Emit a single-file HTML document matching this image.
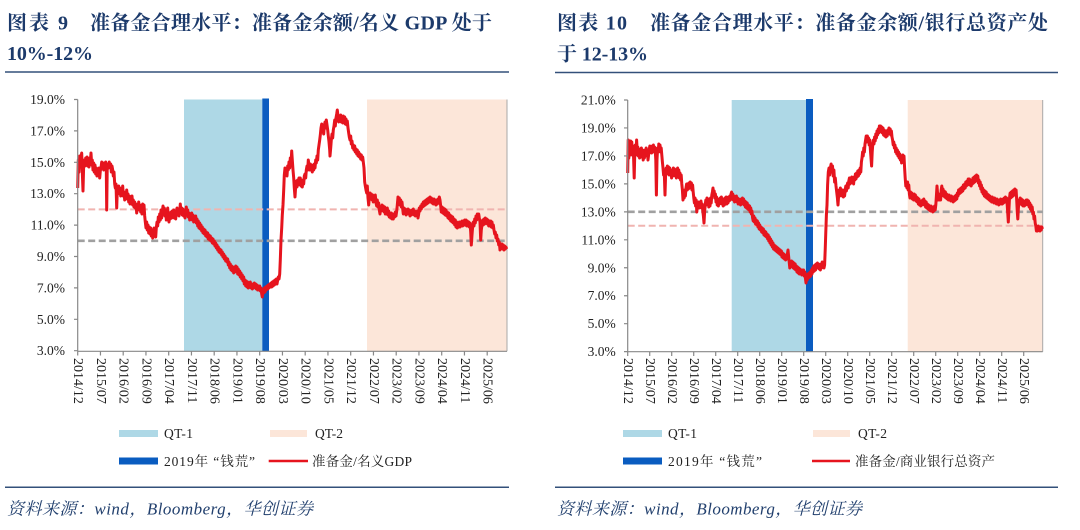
<!DOCTYPE html>
<html><head><meta charset="utf-8"><style>
html,body{margin:0;padding:0;background:#fff;}
svg{display:block;}
.t{font-family:"Liberation Serif","Noto Serif CJK SC",serif;font-weight:700;font-size:20px;fill:#1c3a6b;}
.ax{font-family:"Liberation Serif","Noto Serif CJK SC",serif;font-size:13.5px;fill:#222;}
.axx{font-family:"Liberation Serif","Noto Serif CJK SC",serif;font-size:14px;fill:#222;}
.lg{font-family:"Liberation Serif","Noto Serif CJK SC",serif;font-size:13.5px;fill:#222;}
.ft{font-family:"Liberation Serif","Noto Serif CJK SC",serif;font-style:italic;font-size:17px;fill:#22406e;}
</style></head><body>
<svg width="1080" height="530" viewBox="0 0 1080 530" xmlns="http://www.w3.org/2000/svg">
<!-- Titles -->
<text class="t" x="7" y="29.5" textLength="61">图表 9</text>
<text class="t" x="90" y="29.5" textLength="402">准备金合理水平：准备金余额/名义 GDP 处于</text>
<text class="t" x="7" y="60" textLength="86">10%-12%</text>
<text class="t" x="557" y="29.5" textLength="70">图表 10</text>
<text class="t" x="650" y="29.5" textLength="398">准备金合理水平：准备金余额/银行总资产处</text>
<text class="t" x="557" y="60.5" textLength="91">于 12-13%</text>
<line x1="5" y1="72" x2="509" y2="72" stroke="#33507a" stroke-width="1.5"/>
<line x1="555" y1="72.5" x2="1058" y2="72.5" stroke="#33507a" stroke-width="1.5"/>

<!-- LEFT CHART -->
<rect x="184" y="99.5" width="78.3" height="251.8" fill="#aed8e6"/>
<rect x="262.3" y="98.5" width="6.7" height="252.8" fill="#0a5cc0"/>
<rect x="367" y="99.5" width="140" height="251.8" fill="#fce6d9"/>
<line x1="507" y1="99.5" x2="507" y2="351.3" stroke="#a8a8a8" stroke-width="1"/>
<line x1="77.7" y1="209.4" x2="507" y2="209.4" stroke="#f0b4b0" stroke-width="2" stroke-dasharray="7,3.5"/>
<line x1="77.7" y1="240.8" x2="507" y2="240.8" stroke="#a0a0a0" stroke-width="2.6" stroke-dasharray="7,3.5"/>
<polyline fill="none" stroke="#e6141e" stroke-width="3" stroke-linejoin="round" points="77.7,188 78.3,160 79,172 79.7,156 80.3,165 81,158 81.7,153 82.3,172 83,191 83.6,168 84.3,160 85,166 85.7,158 86.3,163 87,157 87.7,166 88.3,160 89,167 89.7,158 90.3,162 91,153 91.7,165 92.3,160 93,170 93.7,163 94.3,172 95,165 95.7,174 96.3,168 97,176 97.7,170 98.3,174 99,168 99.7,178 100.3,171 101,168 101.7,162 102.3,168 103,163 103.7,170 104.3,163 105,167 105.7,162 106.3,170 106.7,210 107.2,170 107.8,164 108.5,168 109.2,162 110,167 110.7,164 111.3,172 112,166 112.7,170 113.3,176 114,172 114.7,184 115.3,188 116,184 116.7,208 117.3,190 118,194 118.7,186 119.3,193 120,188 120.7,196 121.3,189 122,194 122.7,186 123.3,196 124,192 124.7,200 125.3,194 126,199 126.7,190 127.3,198 128,194 128.7,202 129.3,196 130,204 130.7,198 131.3,203 132,196 132.7,205 133.3,200 134,207 134.7,202 135.3,208 136,204 136.7,213 137.3,205 138,209 138.7,202 139.3,210 140,205 140.7,212 141.3,206 142,214 142.7,204 143.3,209 144,205 144.7,216 145.3,222 146,228 146.7,222 147.3,230 148,225 148.7,233 149.3,227 150,234 150.7,228 151.3,236 152,230 152.7,238 153.3,232 154,228 154.7,235 155.3,230 155.7,237 156.3,228 157,222 157.7,226 158.3,217 159,222 159.7,214 160.3,220 161,210 161.7,218 162.3,212 163,206 163.7,214 164.3,208 165,216 165.7,210 166.3,220 167,214 167.7,208 168.3,218 169,222 169.7,214 170.3,219 171,212 171.7,218 172.3,211 173,216 173.7,210 174.3,218 175,213 175.7,219 176.3,212 177,208 177.7,215 178.3,210 179,216 179.7,211 180.3,204 181,212 181.7,208 182.3,215 183,209 183.7,216 184.3,212 185,218 185.7,213 186.3,207 187,214 187.7,210 188.3,217 189,213 189.7,220 190.3,214 191,218 191.7,213 192.3,220 193,215 193.7,222 194.3,217 195,221 195.7,216 196.3,223 197,219 197.7,226 198.3,221 199,228 199.7,223 200.3,229 201,225 201.7,231 202.3,227 203,233 203.7,229 204.3,234 205,230 205.7,236 206.3,232 207,237 207.7,233 208.3,239 209,235 209.7,240 210.3,236 211,241 211.7,238 212.3,243 213,239 213.7,244 214.3,241 215,246 215.7,243 216.3,248 217,245 217.7,250 218.3,247 219,252 219.7,249 220.3,253 221,250 221.7,255 222.3,252 223,257 223.7,254 224.3,259 225,256 225.7,261 226.3,258 227,262 227.7,259 228.3,265 229,262 229.7,268 230.3,264 231,270 231.7,266 232.3,271 233,267 233.7,273 234.3,268 235,272 235.7,266 236.3,271 237,267 237.7,274 238.3,269 239,275 239.7,271 240.3,277 241,273 241.7,279 242.3,275 243,281 243.7,277 244.3,284 245,280 245.7,286 246.3,281 247,287 247.7,282 248.3,288 249,283 249.7,287 250.3,282 251,288 251.7,284 252.3,289 253,284 253.7,288 254.3,283 255,287 255.7,284 256.3,289 257,285 257.7,290 258.3,286 259,290 259.7,286 260.3,291 261,288 261.7,294 262.3,297 263,290 263.7,293 264.3,288 265,292 265.7,287 266.3,290 267,286 267.7,289 268.3,285 269,288 269.7,284 270.3,287 271,283 271.7,287 272.3,282 273,286 273.7,281 274.3,285 275,280 275.7,284 276.3,279 277,284 277.7,280 278.3,277 279,279 279.7,274 280.3,260 281,240 281.7,228 282.3,215 283,205 283.7,190 284.3,175 285,168 285.7,175 286.3,170 287,176 287.7,166 288.3,170 289,162 289.7,168 290.3,158 291,164 291.7,151 292.3,160 293,170 293.7,178 294.3,188 295,197 295.7,186 296.3,181 297,187 297.7,180 298.3,185 299,178 299.7,184 300.3,178 301,186 301.7,181 302.3,187 303,180 303.7,184 304.3,176 305,174 305.7,178 306.3,170 307,166 307.7,170 308.3,160 309,166 309.7,170 310.3,164 311,170 311.7,165 312.3,172 313,166 313.7,170 314.3,164 315,168 315.7,160 316.3,163 317,156 317.7,160 318.3,150 319,145 319.7,140 320.3,135 321,128 321.7,124 322.3,132 323,127 323.7,134 324.3,126 325,122 325.7,128 326.3,120 327,125 327.7,130 328.3,136 329,142 329.7,150 330,156 330.7,148 331.3,140 332,134 332.7,138 333.3,130 334,126 334.7,120 335.3,126 336,118 336.7,114 337.3,110 338,116 338.7,122 339.3,116 340,121 340.7,115 341.3,122 342,117 342.7,123 343.3,116 344,121 344.7,117 345.3,124 346,119 346.7,125 347.3,121 348,128 348.7,133 349.3,137 350,140 350.7,136 351.3,144 352,141 352.7,148 353.3,145 354,150 354.7,146 355.3,152 356,149 356.7,154 357.3,150 358,156 358.7,152 359.3,157 360,154 360.7,159 361.3,155 362,160 362.7,157 363.3,162 364,168 364.7,182 365.3,186 366,190 366.7,193 367.3,186 368,198 368.7,205 369.3,197 370,193 370.7,199 371.3,194 372,200 372.7,195 373.3,202 374,197 374.7,200 375.3,195 376,203 376.7,206 377.3,200 378,207 378.7,203 379.3,210 380,214 380.7,207 381.3,211 382,205 382.7,210 383.3,206 384,212 384.7,207 385.3,214 386,209 386.7,214 387.3,208 388,215 388.7,211 389.3,217 390,213 390.7,218 391.3,213 392,219 392.7,214 393.3,219 394,214 394.7,217 395.3,212 396,216 396.7,211 397.3,205 398,197 398.7,202 399.3,198 400,205 400.7,200 401.3,207 402,202 402.7,209 403.3,214 404,208 404.7,213 405.3,209 406,215 406.7,210 407.3,214 408,209 408.7,214 409.3,210 410,216 410.7,211 411.3,215 412,210 412.7,214 413.3,209 414,215 414.7,211 415.3,216 416,212 416.7,215 417.3,211 418,218 418.7,214 419.3,208 420,211 420.7,206 421.3,209 422,204 422.7,207 423.3,202 424,206 424.7,201 425.3,205 426,200 426.7,204 427.3,199 428,203 428.7,198 429.3,202 430,197 430.7,202 431.3,198 432,203 432.7,199 433.3,204 434,199 434.7,204 435.3,200 436,205 436.7,200 437.3,204 438,199 438.7,203 439.3,197 440,200 440.7,206 441.3,212 442,207 442.7,213 443.3,208 444,214 444.7,209 445.3,215 446,210 446.7,216 447.3,212 448,218 448.7,213 449.3,219 450,215 450.7,221 451.3,216 452,222 452.7,217 453.3,223 454,219 454.7,225 455.3,220 456,227 456.7,222 457.3,228 458,223 458.7,227 459.3,222 460,227 460.7,222 461.3,226 462,221 462.7,226 463.3,221 464,225 464.7,220 465.3,225 466,220 466.7,226 467.3,221 468,226 468.7,222 469.3,227 470,223 470.7,232 471.3,245 472,235 472.7,226 473.3,222 474,226 474.7,219 475.3,223 476,216 476.7,220 477.3,214 478,219 478.7,214 479.3,218 480,222 480.7,240 481.3,230 482,225 482.7,220 483.3,225 484,219 484.7,224 485.3,218 486,223 486.7,219 487.3,224 488,220 488.7,226 489.3,221 490,226 490.7,221 491.3,227 492,222 492.7,228 493.3,225 494,230 494.7,234 495.3,232 496,238 496.7,235 497.3,241 498,239 498.7,245 499.3,242 500,250 500.7,244 501.3,248 502,244 502.7,249 503.3,245 504,250 504.7,246 505.3,249 506,247 506.7,249"/>
<g stroke="#888" stroke-width="1.2" fill="none">
<line x1="77.7" y1="99.5" x2="77.7" y2="351.3"/>
<line x1="77.7" y1="351.3" x2="507" y2="351.3"/>
<path d="M74,99.5H77.7M74,130.9H77.7M74,162.3H77.7M74,193.7H77.7M74,225.1H77.7M74,256.5H77.7M74,287.9H77.7M74,319.3H77.7M74,350.7H77.7"/>
<path d="M77.7,351.3V355.5M100.45,351.3V355.5M123.2,351.3V355.5M145.95,351.3V355.5M168.7,351.3V355.5M191.45,351.3V355.5M214.2,351.3V355.5M236.95,351.3V355.5M259.7,351.3V355.5M282.45,351.3V355.5M305.2,351.3V355.5M327.95,351.3V355.5M350.7,351.3V355.5M373.45,351.3V355.5M396.2,351.3V355.5M418.95,351.3V355.5M441.7,351.3V355.5M464.45,351.3V355.5M487.2,351.3V355.5"/>
</g>
<g class="ax" text-anchor="end" dominant-baseline="central">
<text x="65" y="99.5">19.0%</text><text x="65" y="130.9">17.0%</text><text x="65" y="162.3">15.0%</text><text x="65" y="193.7">13.0%</text><text x="65" y="225.1">11.0%</text><text x="65" y="256.5">9.0%</text><text x="65" y="287.9">7.0%</text><text x="65" y="319.3">5.0%</text><text x="65" y="350.7">3.0%</text>
</g>
<g class="axx" dominant-baseline="central">
<text transform="translate(77.7,358) rotate(90)">2014/12</text>
<text transform="translate(100.45,358) rotate(90)">2015/07</text>
<text transform="translate(123.2,358) rotate(90)">2016/02</text>
<text transform="translate(145.95,358) rotate(90)">2016/09</text>
<text transform="translate(168.7,358) rotate(90)">2017/04</text>
<text transform="translate(191.45,358) rotate(90)">2017/11</text>
<text transform="translate(214.2,358) rotate(90)">2018/06</text>
<text transform="translate(236.95,358) rotate(90)">2019/01</text>
<text transform="translate(259.7,358) rotate(90)">2019/08</text>
<text transform="translate(282.45,358) rotate(90)">2020/03</text>
<text transform="translate(305.2,358) rotate(90)">2020/10</text>
<text transform="translate(327.95,358) rotate(90)">2021/05</text>
<text transform="translate(350.7,358) rotate(90)">2021/12</text>
<text transform="translate(373.45,358) rotate(90)">2022/07</text>
<text transform="translate(396.2,358) rotate(90)">2023/02</text>
<text transform="translate(418.95,358) rotate(90)">2023/09</text>
<text transform="translate(441.7,358) rotate(90)">2024/04</text>
<text transform="translate(464.45,358) rotate(90)">2024/11</text>
<text transform="translate(487.2,358) rotate(90)">2025/06</text>
</g>
<!-- Left legend -->
<rect x="119" y="430" width="39" height="7" fill="#aed8e6"/>
<text class="lg" x="164" y="438" textLength="29">QT-1</text>
<rect x="270" y="430" width="37" height="7" fill="#fce6d9"/>
<text class="lg" x="315" y="438" textLength="28">QT-2</text>
<rect x="119" y="457.5" width="39" height="7" fill="#0a5cc0"/>
<text class="lg" x="164" y="466" textLength="91">2019年 “钱荒”</text>
<line x1="268.7" y1="461" x2="308" y2="461" stroke="#e6141e" stroke-width="2.5"/>
<text class="lg" x="312" y="466" textLength="100">准备金/名义GDP</text>
<line x1="5" y1="487.3" x2="509" y2="487.3" stroke="#33507a" stroke-width="1.5"/>
<text class="ft" x="7" y="514.5" textLength="306">资料来源：wind，Bloomberg，华创证券</text>

<!-- RIGHT CHART -->
<rect x="731.7" y="100" width="74.3" height="251.7" fill="#aed8e6"/>
<rect x="806" y="99" width="7" height="252.7" fill="#0a5cc0"/>
<rect x="907.7" y="100" width="135" height="251.7" fill="#fce6d9"/>
<line x1="1042.7" y1="100" x2="1042.7" y2="351.7" stroke="#a8a8a8" stroke-width="1"/>
<line x1="627.7" y1="211.8" x2="1042.7" y2="211.8" stroke="#a0a0a0" stroke-width="2.6" stroke-dasharray="7,3.5"/>
<line x1="627.7" y1="225.8" x2="1042.7" y2="225.8" stroke="#f0b4b0" stroke-width="2" stroke-dasharray="7,3.5"/>
<polyline fill="none" stroke="#e6141e" stroke-width="3" stroke-linejoin="round" points="627.7,173 628.2,140 628.8,158 629.4,145 630,155 630.6,141 631.2,150 631.8,142 632.4,155 633,146 633.6,158 634.2,178 634.8,152 635.4,145 636,155 636.6,140 637.2,150 637.8,147 638.4,156 639,149 639.6,158 640.2,150 640.8,156 641.4,148 642,157 642.6,150 643.2,160 643.8,152 644.4,158 645,150 645.6,156 646.2,148 646.8,155 647.4,150 648,160 648.6,155 649.2,150 649.8,146 650.4,152 651,147 651.6,153 652.2,146 652.8,150 653.4,145 654,152 654.6,147 655.2,150 655.8,160 656.4,195 657,160 657.6,148 658.2,152 658.8,144 659.4,150 660,145 660.6,152 661.2,148 661.8,155 662.4,162 663,168 663.6,175 664.2,170 665,195 665.6,175 666.2,168 666.8,174 667.4,166 668,172 668.6,167 669.2,175 669.8,168 670.4,174 671,170 671.6,178 672.2,172 672.8,176 673.4,168 674,174 674.6,169 675.2,176 675.8,170 676.4,178 677,172 677.6,168 678.2,175 678.8,170 679.4,178 680,173 680.6,180 681.2,175 681.8,184 682.4,190 683,200 683.6,192 684.2,198 684.8,190 685.4,196 686,188 686.6,184 687.2,190 687.8,184 688.4,189 689,183 689.6,188 690.2,182 690.8,188 691.4,183 692,190 692.6,185 693.2,192 693.8,198 694.4,203 695,198 695.6,206 696.2,200 696.8,212 697.4,205 698,208 698.6,202 699.2,208 699.8,203 700.4,206 701,201 701.6,208 702.2,204 702.8,211 703.4,216 704,223 704.6,212 705.2,205 705.8,200 706.4,205 707,198 707.6,204 708.2,199 708.8,207 709.4,201 710,206 710.6,198 711.2,203 711.8,195 712.4,192 713,188 713.6,195 714.2,191 714.8,198 715.4,194 716,202 716.6,197 717.2,205 717.8,199 718.4,206 719,200 719.6,204 720.2,198 720.8,203 721.4,197 722,204 722.6,199 723.2,206 723.8,200 724.4,205 725,198 725.6,203 726.2,197 726.8,204 727.4,198 728,203 728.6,197 729.2,201 729.8,196 730.4,200 731,194 731.6,192 732.2,197 732.8,194 733.4,200 734,196 734.6,202 735.2,197 735.8,201 736.4,196 737,202 737.6,198 738.2,204 738.8,199 739.4,204 740,200 740.6,205 741.2,199 741.8,203 742.4,198 743,204 743.6,199 744.2,205 744.8,201 745.4,207 746,202 746.6,208 747.2,203 747.8,209 748.4,205 749,210 749.6,206 750.2,212 750.8,208 751.4,214 752,211 752.6,218 753.2,221 753.8,216 754.4,222 755,218 755.6,224 756.2,220 756.8,225 757.4,221 758,227 758.6,223 759.2,229 759.8,225 760.4,230 761,227 761.6,232 762.2,228 762.8,233 763.4,229 764,235 764.6,231 765.2,236 765.8,232 766.4,237 767,234 767.6,239 768.2,235 768.8,241 769.4,237 770,243 770.6,239 771.2,245 771.8,241 772.4,247 773,243 773.6,249 774.2,245 774.8,250 775.4,246 776,251 776.6,247 777.2,252 777.8,248 778.4,253 779,249 779.6,254 780.2,250 780.8,255 781.4,251 782,257 782.6,253 783.2,258 783.8,254 784.4,259 785,255 785.6,260 786.2,256 786.8,259 787.4,254 788,250 788.6,256 789.2,262 789.8,268 790.4,262 791,267 791.6,261 792.2,266 792.8,262 793.4,268 794,263 794.6,269 795.2,264 795.8,270 796.4,266 797,272 797.6,267 798.2,273 798.8,268 799.4,274 800,269 800.6,274 801.2,270 801.8,275 802.4,270 803,274 803.6,270 804.2,276 804.8,272 805.4,278 806,283 806.6,277 807.2,280 807.8,274 808.4,278 809,273 809.6,277 810.2,272 810.8,276 811.4,270 812,274 812.6,268 813.2,272 813.8,266 814.4,271 815,265 815.6,270 816.2,264 816.8,268 817.4,263 818,268 818.6,264 819.2,269 819.8,265 820.4,270 821,264 821.6,268 822.2,262 822.8,267 823.4,263 824,268 824.6,265 825.2,250 825.8,232 826.4,215 827,205 827.6,185 828.3,172 829,168 829.7,175 830.4,168 831.1,164 831.8,172 832.5,166 833.2,176 833.9,170 834.6,182 835.3,178 836,186 836.7,192 837.4,198 838,205 838.6,196 839.2,190 839.8,196 840.4,188 841,194 841.6,190 842.2,196 842.8,190 843.4,197 844,191 844.6,196 845.2,190 845.8,186 846.4,191 847,186 847.6,183 848.2,188 848.8,181 849.4,178 850,184 850.6,178 851.2,183 851.8,177 852.4,182 853,179 853.6,184 854.2,177 854.8,180 855.4,174 856,179 856.6,173 857.2,177 857.8,171 858.4,176 859,170 859.6,174 860.2,168 860.8,172 861.4,162 862,158 862.6,152 863.2,156 863.8,148 864.4,152 865,144 865.6,140 866.2,136 866.8,142 867.4,136 868,142 868.6,138 869.2,145 869.8,140 870.4,150 871,158 871.6,166 872.2,152 872.8,144 873.4,140 874,144 874.6,137 875.2,141 875.8,134 876.4,138 877,131 877.6,135 878.2,129 878.8,133 879.4,126 880,131 880.6,126 881.2,132 881.8,127 882.4,133 883,128 883.6,135 884.2,130 884.8,136 885.4,131 886,137 886.6,132 887.2,136 887.8,130 888.4,134 889,128 889.6,133 890.2,129 890.8,135 891.4,131 892,137 892.6,140 893.2,145 893.8,142 894.4,148 895,145 895.6,152 896.2,148 896.8,154 897.4,150 898,156 898.6,152 899.2,158 899.8,154 900.4,160 901,156 901.6,163 902.2,158 902.8,155 903.4,160 904,156 904.6,168 905.2,178 905.8,186 906.4,182 907,188 907.6,182 908.2,190 908.8,185 909.4,194 910,198 910.6,192 911.2,198 911.8,193 912.4,199 913,195 913.6,200 914.2,194 914.8,199 915.4,195 916,201 916.6,197 917.2,202 917.8,198 918.4,204 919,199 919.6,205 920.2,201 920.8,206 921.4,201 922,205 922.6,200 923.2,204 923.8,199 924.4,205 925,201 925.6,207 926.2,202 926.8,208 927.4,204 928,209 928.6,205 929.2,210 929.8,206 930.4,211 931,206 931.6,211 932.2,207 932.8,212 933.4,207 934,211 934.6,206 935.2,210 935.8,205 936.4,196 937,186 937.6,194 938.2,200 938.8,194 939.4,200 940,195 940.6,200 941.2,190 941.8,186 942.4,193 943,189 943.6,196 944.2,191 944.8,197 945.4,192 946,198 946.6,194 947.2,199 947.8,195 948.4,200 949,195 949.6,200 950.2,196 950.8,201 951.4,196 952,201 952.6,197 953.2,202 953.8,197 954.4,201 955,196 955.6,200 956.2,195 956.8,199 957.4,193 958,196 958.6,190 959.2,194 959.8,189 960.4,193 961,188 961.6,192 962.2,187 962.8,191 963.4,185 964,189 964.6,184 965.2,188 965.8,182 966.4,186 967,181 967.6,185 968.2,179 968.8,184 969.4,179 970,185 970.6,180 971.2,186 971.8,181 972.4,184 973,178 973.6,183 974.2,177 974.8,182 975.4,176 976,181 976.6,175 977.2,180 977.8,176 978.4,183 979,180 979.6,186 980.2,182 980.8,189 981.4,185 982,192 982.6,188 983.2,194 983.8,190 984.4,196 985,191 985.6,197 986.2,192 986.8,198 987.4,194 988,199 988.6,195 989.2,200 989.8,196 990.4,201 991,197 991.6,202 992.2,197 992.8,202 993.4,198 994,203 994.6,198 995.2,203 995.8,199 996.4,204 997,199 997.6,204 998.2,200 998.8,205 999.4,200 1000,204 1000.6,199 1001.2,204 1001.8,200 1002.4,204 1003,199 1003.6,203 1004.2,198 1004.8,202 1005.4,197 1006,202 1006.6,198 1007.2,205 1007.8,214 1008.3,222 1008.9,210 1009.5,198 1010.1,193 1010.7,198 1011.3,192 1011.9,197 1012.5,191 1013.1,196 1013.7,190 1014.3,195 1014.9,189 1015.5,194 1016.1,190 1016.7,200 1017.3,212 1017.8,219 1018.4,208 1019,200 1019.6,204 1020.2,198 1020.8,204 1021.4,199 1022,205 1022.6,200 1023.2,206 1023.8,201 1024.4,206 1025,201 1025.6,205 1026.2,200 1026.8,204 1027.4,200 1028,205 1028.6,201 1029.2,207 1029.8,203 1030.4,209 1031,205 1031.6,211 1032.2,207 1032.8,214 1033.4,212 1034,219 1034.6,216 1035.2,223 1035.8,226 1036.4,231 1037,227 1037.6,231 1038.2,226 1038.8,230 1039.4,227 1040,231 1040.6,227 1041.2,230 1041.8,227 1042.5,229"/>
<g stroke="#888" stroke-width="1.2" fill="none">
<line x1="627.7" y1="100" x2="627.7" y2="351.7"/>
<line x1="627.7" y1="351.7" x2="1042.7" y2="351.7"/>
<path d="M624,100H627.7M624,127.96H627.7M624,155.92H627.7M624,183.88H627.7M624,211.84H627.7M624,239.8H627.7M624,267.76H627.7M624,295.72H627.7M624,323.68H627.7M624,351.64H627.7"/>
<path d="M627.7,351.7V356M649.7,351.7V356M671.7,351.7V356M693.7,351.7V356M715.7,351.7V356M737.7,351.7V356M759.7,351.7V356M781.7,351.7V356M803.7,351.7V356M825.7,351.7V356M847.7,351.7V356M869.7,351.7V356M891.7,351.7V356M913.7,351.7V356M935.7,351.7V356M957.7,351.7V356M979.7,351.7V356M1001.7,351.7V356M1023.7,351.7V356"/>
</g>
<g class="ax" text-anchor="end" dominant-baseline="central">
<text x="615.7" y="100">21.0%</text><text x="615.7" y="127.96">19.0%</text><text x="615.7" y="155.92">17.0%</text><text x="615.7" y="183.88">15.0%</text><text x="615.7" y="211.84">13.0%</text><text x="615.7" y="239.8">11.0%</text><text x="615.7" y="267.76">9.0%</text><text x="615.7" y="295.72">7.0%</text><text x="615.7" y="323.68">5.0%</text><text x="615.7" y="351.64">3.0%</text>
</g>
<g class="axx" dominant-baseline="central">
<text transform="translate(627.7,358) rotate(90)">2014/12</text>
<text transform="translate(649.7,358) rotate(90)">2015/07</text>
<text transform="translate(671.7,358) rotate(90)">2016/02</text>
<text transform="translate(693.7,358) rotate(90)">2016/09</text>
<text transform="translate(715.7,358) rotate(90)">2017/04</text>
<text transform="translate(737.7,358) rotate(90)">2017/11</text>
<text transform="translate(759.7,358) rotate(90)">2018/06</text>
<text transform="translate(781.7,358) rotate(90)">2019/01</text>
<text transform="translate(803.7,358) rotate(90)">2019/08</text>
<text transform="translate(825.7,358) rotate(90)">2020/03</text>
<text transform="translate(847.7,358) rotate(90)">2020/10</text>
<text transform="translate(869.7,358) rotate(90)">2021/05</text>
<text transform="translate(891.7,358) rotate(90)">2021/12</text>
<text transform="translate(913.7,358) rotate(90)">2022/07</text>
<text transform="translate(935.7,358) rotate(90)">2023/02</text>
<text transform="translate(957.7,358) rotate(90)">2023/09</text>
<text transform="translate(979.7,358) rotate(90)">2024/04</text>
<text transform="translate(1001.7,358) rotate(90)">2024/11</text>
<text transform="translate(1023.7,358) rotate(90)">2025/06</text>
</g>
<!-- Right legend -->
<rect x="623" y="430" width="39" height="7" fill="#aed8e6"/>
<text class="lg" x="668" y="438" textLength="29">QT-1</text>
<rect x="813" y="430" width="37" height="7" fill="#fce6d9"/>
<text class="lg" x="858" y="438" textLength="29">QT-2</text>
<rect x="623" y="457.5" width="39" height="7" fill="#0a5cc0"/>
<text class="lg" x="668" y="466" textLength="94">2019年 “钱荒”</text>
<line x1="812" y1="461" x2="850" y2="461" stroke="#e6141e" stroke-width="2.5"/>
<text class="lg" x="855" y="466" textLength="140">准备金/商业银行总资产</text>
<line x1="555" y1="487.3" x2="1058" y2="487.3" stroke="#33507a" stroke-width="1.5"/>
<text class="ft" x="557" y="514.5" textLength="305">资料来源：wind，Bloomberg，华创证券</text>
</svg>
</body></html>
